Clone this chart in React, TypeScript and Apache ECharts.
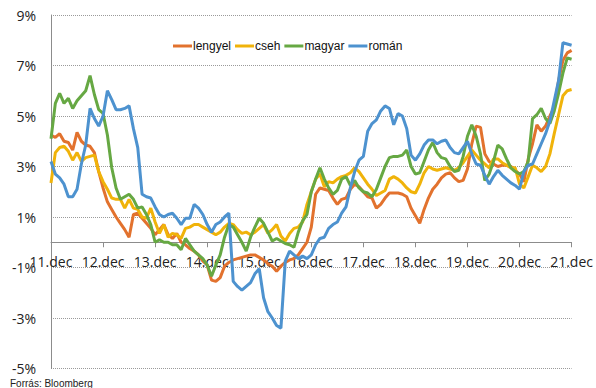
import React, { useEffect, useRef } from "react";
import * as echarts from "echarts";

const monthNames = ["jan", "febr", "márc", "ápr", "máj", "jún", "júl", "aug", "szept", "okt", "nov", "dec"];
const startYear = 11; // 2011 december
const pointCount = 121;
const categories: string[] = Array.from({ length: pointCount }, (_, i) => {
  const mi = (11 + i) % 12;
  const yy = startYear + Math.floor((11 + i) / 12);
  return `${yy}.${monthNames[mi]}`;
});

const seriesNames = ["lengyel", "cseh", "magyar", "román"];

const lengyel = [
  4.25, 4.15, 4.3, 4.0, 3.95, 3.65, 4.35, 4.0, 3.85, 3.8, 3.55, 2.8,
  2.15, 1.6, 1.3, 1.0, 0.75, 0.5, 0.2, 1.1, 1.15, 0.95, 0.75, 0.55,
  0.3, 0.5, 0.7, 0.3, 0.15, 0.35, 0.0, -0.1, -0.25, -0.35, -0.5, -0.75,
  -0.9, -1.5, -1.55, -1.4, -0.95, -0.8, -0.7, -0.65, -0.6, -0.55, -0.5, -0.5,
  -0.6, -0.7, -0.85, -0.95, -1.15, -0.95, -0.8, -0.7, -0.65, -0.5, -0.25, 0.0,
  0.6, 1.9, 2.15, 2.1, 2.05, 1.75, 1.5, 1.7, 1.75, 2.1, 2.3, 2.2,
  2.0, 1.8, 1.75, 1.35, 1.5, 1.75, 1.95, 1.95, 1.95, 1.9, 1.8, 1.35,
  1.05, 0.75, 1.3, 1.75, 2.1, 2.3, 2.55, 2.7, 2.75, 2.55, 2.4, 2.45,
  2.9, 3.9, 4.6, 4.55, 3.5, 3.2, 3.1, 3.0, 3.05, 3.05, 3.0, 2.85,
  2.7, 2.4, 3.3, 3.9, 4.65, 4.4, 4.6, 5.0, 5.35, 6.4, 7.2, 7.5,
  7.6,
];

const cseh = [
  2.35, 3.55, 3.75, 3.8, 3.6, 3.25, 3.55, 3.2, 3.35, 3.4, 3.45, 2.8,
  2.4, 2.1, 1.75, 1.7, 1.7, 1.35, 1.7, 1.35, 1.3, 1.0, 0.95, 1.35,
  0.8, 0.35, 0.7, 0.2, 0.35, 0.3, 0.15, 0.55, 0.6, 0.7, 0.7, 0.6,
  0.5, 0.4, 0.3, 0.4, 0.6, 0.75, 0.7, 0.5, 0.35, 0.4, 0.3, 0.4,
  0.55, 0.7, 0.35, 0.5, 0.7, 0.25, 0.05, 0.35, 0.55, 0.6, 0.8, 1.5,
  2.0, 2.5, 2.7, 2.2, 2.4, 2.35, 2.5, 2.6, 2.65, 2.75, 2.95, 2.8,
  2.55, 2.3, 2.1, 1.85, 1.95, 2.05, 2.5, 2.6, 2.5, 2.35, 2.15, 2.0,
  1.95, 2.3, 2.75, 3.0, 2.9, 2.85, 2.9, 2.95, 2.9, 2.85, 2.95, 3.15,
  3.4, 3.65, 3.45, 3.25, 3.1, 2.95, 3.3, 3.3, 3.15, 3.05, 2.95, 2.95,
  2.3, 2.15, 2.6, 3.05, 2.95, 2.8, 3.0, 3.5, 4.3, 5.05, 5.8, 6.0,
  6.05,
];

const magyar = [
  4.1, 5.5, 5.9, 5.5, 5.7, 5.3, 5.6, 5.8, 6.0, 6.6, 5.85, 5.25,
  5.1, 4.25, 2.95, 2.15, 1.7, 1.8, 1.9, 1.7, 1.35, 1.4, 1.1, 0.7,
  0.0, 0.1, 0.0, 0.0, -0.1, -0.1, -0.3, 0.15, -0.1, -0.35, -0.5, -0.65,
  -0.9, -1.35, -0.9, -0.5, 0.2, 0.7, 0.6, 0.3, 0.0, -0.35, 0.2, 0.6,
  0.95, 0.75, 0.4, 0.05, 0.15, 0.05, -0.05, -0.1, -0.2, 0.4, 0.85, 1.1,
  2.0, 2.5, 2.95, 2.5, 2.15, 1.9, 2.05, 2.5, 2.6, 2.25, 2.45, 2.15,
  2.0, 1.95, 1.8, 2.1, 2.55, 3.0, 3.35, 3.4, 3.4, 3.45, 3.65, 3.0,
  2.7, 2.75, 3.2, 3.65, 3.95, 3.55, 3.35, 3.3, 3.0, 2.8, 2.85, 3.4,
  4.2, 4.65, 4.2, 3.5, 2.45, 2.7, 3.2, 3.85, 3.7, 3.3, 2.95, 2.8,
  2.7, 2.8, 3.2, 4.9, 5.05, 5.3, 4.9, 4.7, 5.2, 5.9, 6.7, 7.3,
  7.25,
];

const roman = [
  3.2, 2.7, 2.55, 2.3, 1.8, 1.8, 2.1, 3.1, 3.85, 5.3, 4.9, 4.6,
  5.0, 6.0, 5.65, 5.25, 5.25, 5.3, 5.4, 4.5, 3.75, 1.9, 1.8, 1.75,
  1.4, 1.1, 1.0, 1.1, 1.15, 0.95, 0.7, 0.95, 0.95, 1.5, 1.35, 1.1,
  0.7, 0.4, 0.7, 0.8, 1.0, 1.15, -1.55, -1.75, -1.9, -1.75, -1.6, -1.25,
  -1.05, -2.2, -2.75, -3.0, -3.3, -3.4, -0.75, -0.35, -0.5, -0.65, -0.55, -0.65,
  -0.5, -0.1, 0.15, 0.2, 0.55, 0.7, 0.8, 1.15, 1.4, 2.15, 2.8, 3.25,
  3.4, 4.4, 4.7, 4.85, 5.2, 5.4, 5.3, 4.65, 5.1, 5.0, 4.5, 3.45,
  3.25, 3.5, 3.85, 4.05, 4.05, 3.9, 4.0, 4.05, 3.75, 3.55, 3.5, 3.75,
  4.0, 3.5, 3.1, 3.05, 2.65, 2.3, 2.6, 2.85, 2.65, 2.5, 2.35, 2.25,
  2.1, 2.8, 3.05, 3.1, 3.5, 3.9, 4.3, 4.8, 5.6, 6.4, 7.9, 7.85,
  7.8,
];

const seriesData = [lengyel, cseh, magyar, roman];
const colors = ["#E2722E", "#F0B30A", "#66A843", "#4D92CF"];

const yMin = -5;
const yMax = 9;
const yInterval = 2;
const sourceText = "Forrás: Bloomberg";

const gridTop = 15;
const gridBottom = 19.5;
const chartHeight = 388;

export default function App() {
  const ref = useRef<HTMLDivElement>(null);

  useEffect(() => {
    if (!ref.current) return;
    const chart = echarts.init(ref.current, undefined, { renderer: "svg" });
    const isYearTick = (index: number) => index % 12 === 0;
    const plotH = chartHeight - gridTop - gridBottom;
    const zeroOffset = -((0 - yMin) / (yMax - yMin)) * plotH;
    chart.setOption({
      animation: false,
      color: colors,
      textStyle: { fontFamily: "Open Sans" },
      grid: { left: 51, right: 24, top: gridTop, bottom: gridBottom, containLabel: false },
      legend: {
        data: seriesNames,
        left: 168,
        top: 35,
        itemWidth: 19,
        itemHeight: 3,
        itemGap: 4,
        icon: "rect",
        textStyle: {
          fontFamily: "Liberation Sans",
          fontSize: 12,
          color: "#111",
          padding: [0, 0, 0, -4],
        },
      },
      xAxis: {
        type: "category",
        data: categories,
        boundaryGap: false,
        position: "bottom",
        offset: zeroOffset,
        axisLine: { onZero: false, lineStyle: { color: "#8c8c8c", width: 1 } },
        axisTick: {
          show: true,
          interval: (index: number) => isYearTick(index),
          length: 5,
          lineStyle: { color: "#8c8c8c" },
        },
        axisLabel: {
          interval: (index: number) => isYearTick(index),
          fontFamily: "Open Sans",
          fontSize: 14,
          color: "#222",
          margin: 12,
          formatter: (v: string) => {
            const parts = v.split(".");
            return `${parts[0]}.${parts[1]}`;
          },
        },
        splitLine: { show: false },
      },
      yAxis: {
        type: "value",
        min: yMin,
        max: yMax,
        interval: yInterval,
        axisLine: { show: true, lineStyle: { color: "#8c8c8c", width: 1 } },
        axisTick: { show: false },
        axisLabel: {
          fontFamily: "Open Sans",
          fontSize: 14,
          color: "#222",
          margin: 15,
          formatter: (v: number) => `${v}%`,
        },
        splitLine: { show: true, lineStyle: { color: "#9a9a9a", type: "dotted", width: 1 } },
      },
      graphic: [
        {
          type: "text",
          left: 10,
          top: 378,
          style: { text: sourceText, fontFamily: "Liberation Sans", fontSize: 10, fill: "#222" },
        },
      ],
      series: seriesNames.map((name, i) => ({
        name,
        type: "line",
        data: seriesData[i],
        showSymbol: false,
        symbol: "none",
        lineStyle: { width: 3, color: colors[i] },
        itemStyle: { color: colors[i] },
        z: 2 + i,
      })),
    });
    return () => chart.dispose();
  }, []);

  return (
    <div
      ref={ref}
      style={{ position: "fixed", left: 0, top: 0, width: 596, height: 388, background: "#fff" }}
    />
  );
}
